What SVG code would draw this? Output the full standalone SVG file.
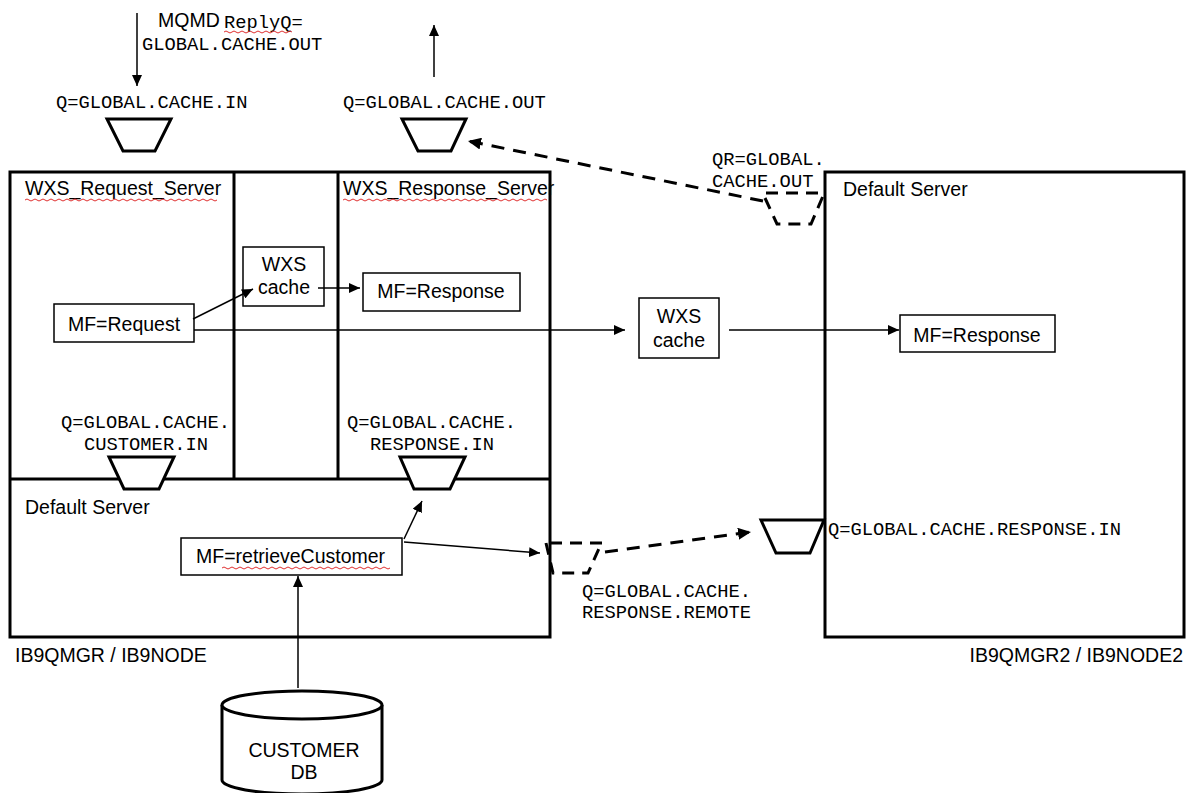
<svg xmlns="http://www.w3.org/2000/svg" width="1189" height="793" viewBox="0 0 1189 793">
<style>
.sans{font-family:"Liberation Sans",Arial,sans-serif;font-size:19.5px;fill:#000}
.mono{font-family:"Liberation Mono","Courier New",monospace;font-size:18.8px;fill:#000}
.frame{fill:none;stroke:#000;stroke-width:3}
.box{fill:#fff;stroke:#000;stroke-width:1.5}
.queue{fill:#fff;stroke:#000;stroke-width:3;stroke-linejoin:miter}
.dq{fill:none;stroke:#000;stroke-width:3;stroke-dasharray:12 8}
.thin{fill:none;stroke:#000;stroke-width:1.5}
.dash{fill:none;stroke:#000;stroke-width:3;stroke-dasharray:13 9}
.spell{fill:none;stroke:#e03030;stroke-width:1}
</style>
<defs>
<marker id="ah" markerUnits="userSpaceOnUse" markerWidth="12" markerHeight="10" refX="11" refY="5" orient="auto">
<path d="M0,0 L11,5 L0,10 z" fill="#000"/>
</marker>
<marker id="ahd" markerUnits="userSpaceOnUse" markerWidth="14" markerHeight="12" refX="13" refY="6" orient="auto">
<path d="M0,0 L13,6 L0,12 z" fill="#000"/>
</marker>
</defs>
<rect width="1189" height="793" fill="#fff"/>

<g id="node1-frame">
<rect class="frame" x="10" y="172" width="540" height="465"/>
<line class="frame" x1="234" y1="172" x2="234" y2="479"/>
<line class="frame" x1="338" y1="172" x2="338" y2="479"/>
<line class="frame" x1="10" y1="479" x2="550" y2="479"/>
<text class="sans" x="25" y="195">WXS_Request_Server</text>
<text class="sans" x="343" y="195">WXS_Response_Server</text>
<text class="sans" x="25" y="514">Default Server</text>
<text class="sans" x="15" y="662">IB9QMGR / IB9NODE</text>
<path class="spell" d="M25,200 q2,-2 4,0 t4,0 t4,0 t4,0 t4,0 t4,0 t4,0 t4,0 t4,0 t4,0 t4,0 t4,0 t4,0 t4,0 t4,0 t4,0 t4,0 t4,0 t4,0 t4,0 t4,0 t4,0 t4,0 t4,0 t4,0 t4,0 t4,0 t4,0 t4,0 t4,0 t4,0 t4,0 t4,0 t4,0 t4,0 t4,0 t4,0 t4,0 t4,0 t4,0 t4,0 t4,0 t4,0 t4,0 t4,0 t4,0 t4,0 t4,0"/>
<path class="spell" d="M343,200 q2,-2 4,0 t4,0 t4,0 t4,0 t4,0 t4,0 t4,0 t4,0 t4,0 t4,0 t4,0 t4,0 t4,0 t4,0 t4,0 t4,0 t4,0 t4,0 t4,0 t4,0 t4,0 t4,0 t4,0 t4,0 t4,0 t4,0 t4,0 t4,0 t4,0 t4,0 t4,0 t4,0 t4,0 t4,0 t4,0 t4,0 t4,0 t4,0 t4,0 t4,0 t4,0 t4,0 t4,0 t4,0 t4,0 t4,0 t4,0 t4,0 t4,0 t4,0 t4,0"/>
</g>

<g id="node2-frame">
<rect class="frame" x="825" y="172" width="359" height="465"/>
<text class="sans" x="843" y="196">Default Server</text>
<text class="sans" x="1183" y="662" text-anchor="end">IB9QMGR2 / IB9NODE2</text>
</g>

<g id="q-cache-in">
<polygon class="queue" points="107,119 171,119 155,151 123,151"/>
<text class="mono" x="56" y="108">Q=GLOBAL.CACHE.IN</text>
</g>

<g id="mqmd-label">
<text class="sans" x="158" y="27" font-size="17.5">MQMD</text>
<text class="mono" x="224" y="28" font-size="16.5">ReplyQ=</text>
<path class="spell" d="M224,32 q2,-2 4,0 t4,0 t4,0 t4,0 t4,0 t4,0 t4,0 t4,0 t4,0 t4,0 t4,0 t4,0 t4,0 t4,0 t4,0 t4,0 t4,0"/>
<text class="mono" x="142" y="50">GLOBAL.CACHE.OUT</text>
</g>

<g id="q-cache-out">
<polygon class="queue" points="402,119 466,119 451,151 418,151"/>
<text class="mono" x="343" y="108">Q=GLOBAL.CACHE.OUT</text>
</g>

<g id="qr-remote">
<polyline class="dq" points="765,198 777,224 811,224 823,196"/>
<line class="dq" x1="766" y1="193" x2="824" y2="193"/>
<text class="mono" x="712" y="165">QR=GLOBAL.</text>
<text class="mono" x="712" y="187">CACHE.OUT</text>
</g>

<g id="wxs-cache-small">
<rect class="box" x="243" y="247" width="81" height="59"/>
<text class="sans" x="284" y="271" text-anchor="middle">WXS</text>
<text class="sans" x="284" y="294" text-anchor="middle">cache</text>
</g>

<g id="mf-response-left">
<rect class="box" x="363" y="273" width="157" height="38"/>
<text class="sans" x="441" y="298" text-anchor="middle">MF=Response</text>
</g>

<g id="mf-request">
<rect class="box" x="54" y="304" width="140" height="38"/>
<text class="sans" x="124" y="331" text-anchor="middle">MF=Request</text>
</g>

<g id="q-customer-in">
<polygon class="queue" points="109,457 174,457 159,489 124,489"/>
<text class="mono" x="61" y="428">Q=GLOBAL.CACHE.</text>
<text class="mono" x="84" y="450">CUSTOMER.IN</text>
</g>

<g id="q-response-in-left">
<polygon class="queue" points="400,457 465,457 450,489 414,489"/>
<text class="mono" x="347" y="428">Q=GLOBAL.CACHE.</text>
<text class="mono" x="370" y="450">RESPONSE.IN</text>
</g>

<g id="mf-retrieve-customer">
<rect class="box" x="181" y="538" width="221" height="37"/>
<text class="sans" x="196" y="563">MF=retrieveCustomer</text>
<path class="spell" d="M222,568 q2,-2 4,0 t4,0 t4,0 t4,0 t4,0 t4,0 t4,0 t4,0 t4,0 t4,0 t4,0 t4,0 t4,0 t4,0 t4,0 t4,0 t4,0 t4,0 t4,0 t4,0 t4,0 t4,0 t4,0 t4,0 t4,0 t4,0 t4,0 t4,0 t4,0 t4,0 t4,0 t4,0 t4,0 t4,0 t4,0 t4,0 t4,0 t4,0 t4,0 t4,0 t4,0 t4,0"/>
</g>

<g id="q-response-remote">
<polyline class="dq" points="546,543 553,573 588,573 601,544"/>
<line class="dq" x1="550" y1="543" x2="603" y2="543"/>
<text class="mono" x="582" y="597">Q=GLOBAL.CACHE.</text>
<text class="mono" x="582" y="618">RESPONSE.REMOTE</text>
</g>

<g id="wxs-cache-mid">
<rect class="box" x="639" y="298" width="80" height="60"/>
<text class="sans" x="679" y="323" text-anchor="middle">WXS</text>
<text class="sans" x="679" y="347" text-anchor="middle">cache</text>
</g>

<g id="mf-response-right">
<rect class="box" x="900" y="315" width="155" height="37"/>
<text class="sans" x="977" y="342" text-anchor="middle">MF=Response</text>
</g>

<g id="q-response-in-right">
<polygon class="queue" points="761,520 824,520 810,553 776,553"/>
<text class="mono" x="828" y="535">Q=GLOBAL.CACHE.RESPONSE.IN</text>
</g>

<g id="customer-db">
<path d="M222,705 L222,780 A80,14 0 0 0 382,780 L382,705" fill="#fff" stroke="#000" stroke-width="3"/>
<ellipse cx="302" cy="705" rx="80" ry="14" fill="#fff" stroke="#000" stroke-width="3"/>
<text class="sans" x="304" y="757" text-anchor="middle">CUSTOMER</text>
<text class="sans" x="304" y="779" text-anchor="middle">DB</text>
</g>

<g id="connectors">
<line class="thin" x1="137" y1="13" x2="137" y2="86" marker-end="url(#ah)"/>
<line class="thin" x1="434" y1="77" x2="434" y2="25" marker-end="url(#ah)"/>
<line class="dash" x1="763" y1="201" x2="468" y2="141" marker-end="url(#ahd)"/>
<line class="thin" x1="193" y1="319" x2="253" y2="289" marker-end="url(#ah)"/>
<line class="thin" x1="318" y1="288" x2="360" y2="288" marker-end="url(#ah)"/>
<line class="thin" x1="194" y1="330" x2="625" y2="330" marker-end="url(#ah)"/>
<line class="thin" x1="729" y1="330" x2="899" y2="330" marker-end="url(#ah)"/>
<line class="thin" x1="298" y1="688" x2="298" y2="576" marker-end="url(#ah)"/>
<line class="thin" x1="404" y1="539" x2="422" y2="501" marker-end="url(#ah)"/>
<line class="thin" x1="404" y1="542" x2="540" y2="553" marker-end="url(#ah)"/>
<line class="dash" x1="605" y1="552" x2="751" y2="532" marker-end="url(#ahd)"/>
</g>
</svg>
